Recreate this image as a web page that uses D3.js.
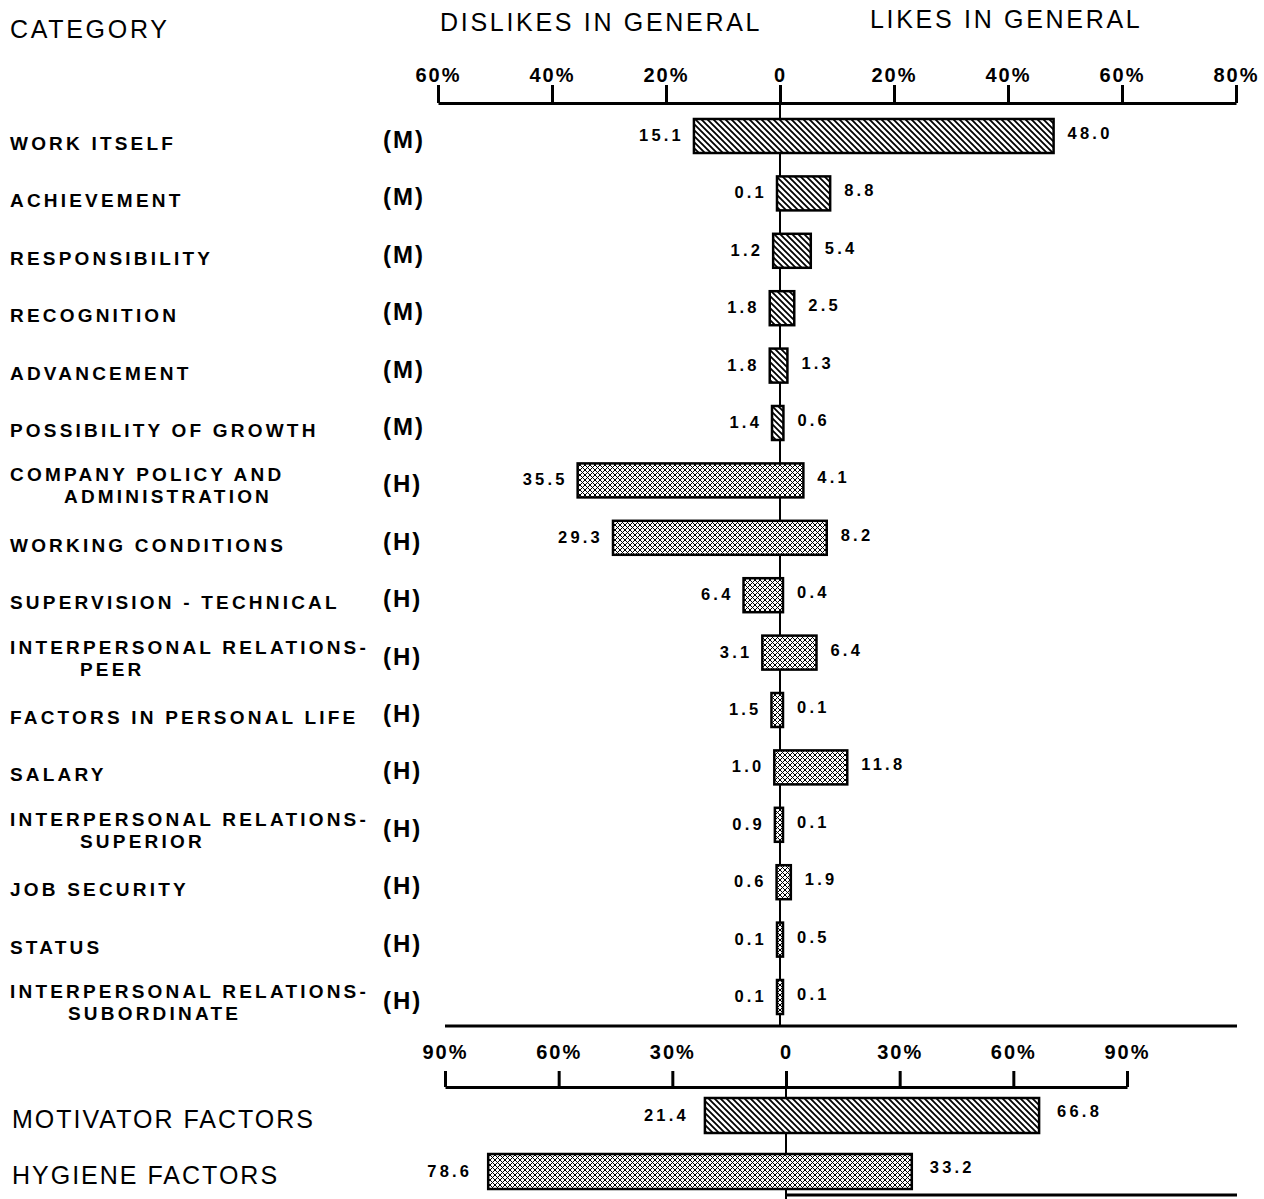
<!DOCTYPE html>
<meta charset="utf-8">
<style>
body { margin: 0; background: #fff; }
svg { font-family: "Liberation Sans", Arial, sans-serif; }
.head { font-size: 25px; letter-spacing: 2.7px; }
.cat { font-size: 19px; font-weight: bold; letter-spacing: 3.2px; }
.type { font-size: 24px; font-weight: bold; letter-spacing: 2px; }
.vals { font-size: 16.5px; font-weight: bold; letter-spacing: 3.2px; }
.big { font-size: 25px; letter-spacing: 2px; }
.axis path, .axis line { stroke: #000; stroke-width: 3; }
.axis text { font-size: 20px; font-weight: bold; letter-spacing: 2px; fill: #000; }
.bar { stroke: #000; stroke-width: 2.5; }
</style>
<body>
<svg width="1264" height="1199"></svg>
</body>
<script src="https://cdn.jsdelivr.net/npm/d3@7"></script>
<script>

var categories = ["WORK ITSELF", "ACHIEVEMENT", "RESPONSIBILITY", "RECOGNITION", "ADVANCEMENT",
  "POSSIBILITY OF GROWTH", "COMPANY POLICY AND|ADMINISTRATION", "WORKING CONDITIONS",
  "SUPERVISION - TECHNICAL", "INTERPERSONAL RELATIONS-|PEER", "FACTORS IN PERSONAL LIFE",
  "SALARY", "INTERPERSONAL RELATIONS-|SUPERIOR", "JOB SECURITY", "STATUS",
  "INTERPERSONAL RELATIONS-|SUBORDINATE"];
var types = ["M", "M", "M", "M", "M", "M", "H", "H", "H", "H", "H", "H", "H", "H", "H", "H"];
var dislikes = [15.1, 0.1, 1.2, 1.8, 1.8, 1.4, 35.5, 29.3, 6.4, 3.1, 1.5, 1.0, 0.9, 0.6, 0.1, 0.1];
var likes = [48.0, 8.8, 5.4, 2.5, 1.3, 0.6, 4.1, 8.2, 0.4, 6.4, 0.1, 11.8, 0.1, 1.9, 0.5, 0.1];
var topTicks = [-60, -40, -20, 0, 20, 40, 60, 80];

var groups = ["MOTIVATOR FACTORS", "HYGIENE FACTORS"];
var groupTypes = ["M", "H"];
var groupDislikes = [21.4, 78.6];
var groupLikes = [66.8, 33.2];
var bottomTicks = [-90, -60, -30, 0, 30, 60, 90];

var svg = d3.select("svg");

// fill patterns
var defs = svg.append("defs");
var hatch = defs.append("pattern")
    .attr("id", "hatchM")
    .attr("patternUnits", "userSpaceOnUse")
    .attr("width", 6).attr("height", 6);
hatch.append("rect").attr("width", 6).attr("height", 6).attr("fill", "#fff");
hatch.append("path")
    .attr("d", "M-1,-1 L7,7 M-4,2 L4,10 M2,-4 L10,4")
    .attr("stroke", "#000").attr("stroke-width", 1.8);

var dots = defs.append("pattern")
    .attr("id", "hatchH")
    .attr("patternUnits", "userSpaceOnUse")
    .attr("width", 5).attr("height", 5);
dots.append("rect").attr("width", 5).attr("height", 5).attr("fill", "#fff");
dots.append("path")
    .attr("d", "M0,0 L5,5 M5,0 L0,5")
    .attr("stroke", "#000").attr("stroke-width", 1);

function fillFor(t) { return t == "M" ? "url(#hatchM)" : "url(#hatchH)"; }
function pct(d) { return d == 0 ? "0" : Math.abs(d) + "%"; }

// scales
var x = d3.scaleLinear().domain([-60, 80]).range([438, 1236]);
var y = d3.scalePoint().domain(d3.range(categories.length)).range([136, 997]);
var x2 = d3.scaleLinear().domain([-90, 90]).range([445, 1127]);
var y2 = d3.scalePoint().domain(d3.range(groups.length)).range([1116, 1172]);
var barH = 34;

// headers
svg.append("text").attr("class", "head").attr("x", 10).attr("y", 38).text("CATEGORY");
svg.append("text").attr("class", "head").attr("x", 440).attr("y", 31).text("DISLIKES IN GENERAL");
svg.append("text").attr("class", "head").attr("x", 870).attr("y", 28).text("LIKES IN GENERAL");

// top axis
svg.append("g")
    .attr("class", "axis")
    .attr("transform", "translate(0,103)")
    .call(d3.axisTop(x).tickValues(topTicks).tickFormat(pct)
      .tickSizeInner(18).tickSizeOuter(0).tickPadding(3));

// center lines
svg.append("line")
    .attr("x1", x(0)).attr("x2", x(0)).attr("y1", 103).attr("y2", 1026)
    .attr("stroke", "#000").attr("stroke-width", 2);
svg.append("line")
    .attr("x1", 445).attr("x2", 1237).attr("y1", 1026).attr("y2", 1026)
    .attr("stroke", "#000").attr("stroke-width", 3);

// category rows
var rows = svg.append("g").selectAll("g")
    .data(categories.map(function(c, i) {
      return {name: c, type: types[i], dis: dislikes[i], like: likes[i], i: i};
    }))
    .enter().append("g");

rows.each(function(d) {
  var g = d3.select(this);
  var cy = y(d.i);
  var lines = d.name.split("|");
  if (lines.length == 1) {
    g.append("text").attr("class", "cat").attr("x", 10).attr("y", cy + 14).text(lines[0]);
  } else {
    g.append("text").attr("class", "cat").attr("x", 10).attr("y", cy + 1).text(lines[0]);
    g.append("text").attr("class", "cat").attr("x", lines[1] == "ADMINISTRATION" ? 64 : (lines[1] == "SUBORDINATE" ? 68 : 80))
      .attr("y", cy + 23).text(lines[1]);
  }
  g.append("text").attr("class", "type").attr("x", 383).attr("y", cy + 12).text("(" + d.type + ")");

  var x0 = Math.min(x(-d.dis), x(0) - 3), x1 = Math.max(x(d.like), x(0) + 3);
  g.append("rect").attr("class", "bar")
    .attr("x", x0).attr("width", x1 - x0)
    .attr("y", cy - barH / 2).attr("height", barH)
    .attr("fill", fillFor(d.type));
  g.append("text").attr("class", "vals").attr("text-anchor", "end")
    .attr("x", x0 - 10).attr("y", cy + 5).text(d.dis.toFixed(1));
  g.append("text").attr("class", "vals")
    .attr("x", x1 + 14).attr("y", cy + 3).text(d.like.toFixed(1));
});

// bottom axis
svg.append("g")
    .attr("class", "axis")
    .attr("transform", "translate(0,1087)")
    .call(d3.axisTop(x2).tickValues(bottomTicks).tickFormat(pct)
      .tickSizeInner(16).tickSizeOuter(0).tickPadding(12));

svg.append("line")
    .attr("x1", x2(0)).attr("x2", x2(0)).attr("y1", 1071).attr("y2", 1199)
    .attr("stroke", "#000").attr("stroke-width", 2);
svg.append("line")
    .attr("x1", x2(0)).attr("x2", 1237).attr("y1", 1195).attr("y2", 1195)
    .attr("stroke", "#000").attr("stroke-width", 3);

groups.forEach(function(name, i) {
  var cy = y2(i);
  svg.append("text").attr("class", "big").attr("x", 12).attr("y", cy + 12).text(name);
  var x0 = x2(-groupDislikes[i]), x1 = x2(groupLikes[i]);
  svg.append("rect").attr("class", "bar")
    .attr("x", x0).attr("width", x1 - x0)
    .attr("y", cy - barH / 2 - 1).attr("height", barH + 1)
    .attr("fill", fillFor(groupTypes[i]));
  svg.append("text").attr("class", "vals").attr("text-anchor", "end")
    .attr("x", x0 - 16).attr("y", cy + 5).text(groupDislikes[i].toFixed(1));
  svg.append("text").attr("class", "vals")
    .attr("x", x1 + 18).attr("y", cy + 1).text(groupLikes[i].toFixed(1));
});

</script>
